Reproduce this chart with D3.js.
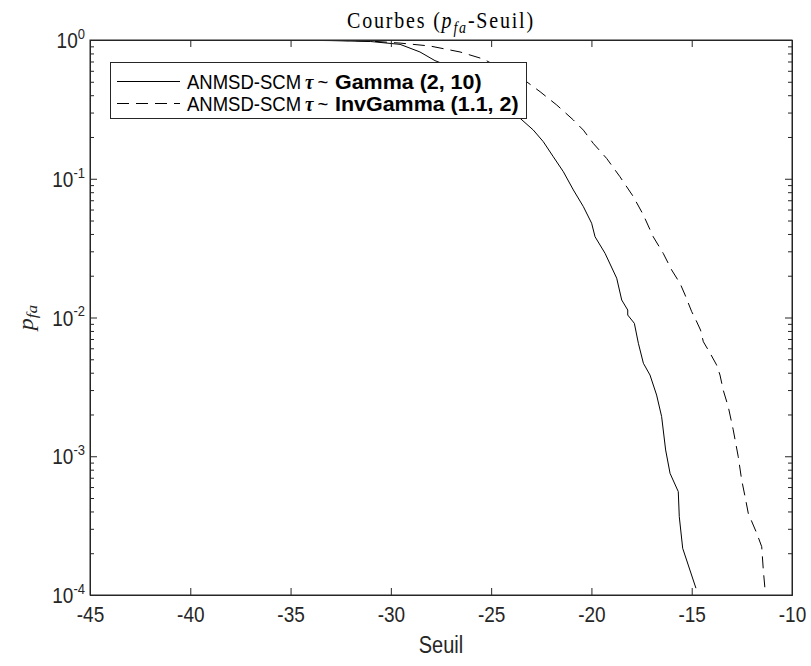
<!DOCTYPE html>
<html>
<head>
<meta charset="utf-8">
<script src="https://cdn.jsdelivr.net/npm/d3@7/dist/d3.min.js"></script>
<style>
  html, body { margin: 0; padding: 0; background: #fff; }
  svg { display: block; }
</style>
</head>
<body>
<svg id="chart" width="811" height="666"></svg>
<script>
// Seuil (threshold) values and false-alarm probabilities for each texture prior
const seuilGamma = [-45, -40, -37, -35, -33, -31, -29.54, -28.55, -27.8, -26.5, -25, -23.56, -22.9, -22.4, -21.9, -21.4, -20.9, -20.4, -19.99, -19.82, -19.32, -18.74, -18.49, -18.19, -18.19, -17.86, -17.66, -17.41, -17.08, -16.75, -16.5, -16.3, -16.08, -15.67, -15.62, -15.45, -14.79];
const pfaGamma = [1, 1, 0.9995, 0.997, 0.99, 0.975, 0.93, 0.82, 0.71, 0.6, 0.45, 0.273, 0.2246, 0.185, 0.144, 0.1124, 0.083, 0.0629, 0.0478, 0.0382, 0.029, 0.0192, 0.01337, 0.01132, 0.01042, 0.00908, 0.00652, 0.00468, 0.00385, 0.00276, 0.00193, 0.00111, 0.000753, 0.000556, 0.000367, 0.000217, 0.000112];

const seuilInvGamma = [-45, -40, -35, -33, -31.05, -29.54, -28.05, -26.55, -25.4, -23.23, -22.56, -21.73, -20.9, -20.4, -19.91, -19.24, -18.58, -17.91, -17.41, -16.92, -16.42, -16.0, -15.58, -15.33, -15.0, -14.83, -14.56, -14.42, -14.08, -13.76, -13.59, -13.43, -13.18, -12.93, -12.68, -12.51, -12.34, -12.18, -11.76, -11.51, -11.43, -11.35];
const pfaInvGamma = [1, 1, 0.999, 0.995, 0.983, 0.95, 0.905, 0.82, 0.73, 0.5, 0.424, 0.34, 0.265, 0.224, 0.18, 0.14, 0.1035, 0.0743, 0.0548, 0.0382, 0.029, 0.022, 0.0176, 0.01452, 0.01101, 0.00986, 0.00812, 0.00669, 0.00552, 0.00455, 0.00385, 0.003, 0.00228, 0.00155, 0.000993, 0.000675, 0.000511, 0.000388, 0.000279, 0.000223, 0.000151, 0.000112];

const xTicks = [-45, -40, -35, -30, -25, -20, -15, -10];
const yExponents = [0, -1, -2, -3, -4];

const seriesNames = ["Gamma (2, 10)", "InvGamma (1.1, 2)"];
const seriesPrefix = "ANMSD-SCM";

const axisColor = "#262626";
const sansFont = "'Liberation Sans', Arial, Helvetica, sans-serif";
const serifFont = "'Liberation Serif', 'Times New Roman', serif";
const SY = 1.15;        // glyphs are drawn slightly taller than wide
const SY_LEGEND = 1.08; // legend rows are tighter

const margin = { left: 90, right: 19, top: 40, bottom: 71 };
const W = 811, H = 666;
const x0 = margin.left, x1 = W - margin.right;
const y0 = H - margin.bottom, y1 = margin.top;

const svg = d3.select("#chart");

const x = d3.scaleLinear().domain([-45, -10]).range([x0, x1]);
const y = d3.scaleLog().domain([1e-4, 1]).range([y0, y1]);

// Text anchored at (tx, ty) with a vertical stretch (and optional horizontal one)
function label(parent, tx, ty, sx = 1, sy = SY) {
  return parent.append("g").attr("transform", `translate(${tx},${ty}) scale(${sx},${sy})`).append("text");
}

// Plot background
svg.append("rect").attr("x", x0).attr("y", y1).attr("width", x1 - x0).attr("height", y0 - y1).attr("fill", "#fff");

// Curves
svg.append("clipPath").attr("id", "plotClip")
  .append("rect").attr("x", x0).attr("y", y1).attr("width", x1 - x0).attr("height", y0 - y1);

const line = d3.line().x(d => x(d[0])).y(d => y(d[1]));
const gCurves = svg.append("g").attr("clip-path", "url(#plotClip)");
gCurves.append("path")
  .datum(d3.zip(seuilGamma, pfaGamma))
  .attr("d", line).attr("fill", "none").attr("stroke", "#000").attr("stroke-width", 1);
gCurves.append("path")
  .datum(d3.zip(seuilInvGamma, pfaInvGamma))
  .attr("d", line).attr("fill", "none").attr("stroke", "#000").attr("stroke-width", 1)
  .attr("stroke-dasharray", "12,7");

// Axes: ticks point inward, box on all four sides
const majorLen = 7, minorLen = 4;

const xAxisBottom = d3.axisBottom(x).tickValues(xTicks).tickSizeInner(-majorLen).tickSizeOuter(0).tickFormat(d => String(d));
const gxb = svg.append("g").attr("transform", `translate(0,${y0})`).call(xAxisBottom);
const xAxisTop = d3.axisTop(x).tickValues(xTicks).tickSizeInner(-majorLen).tickSizeOuter(0).tickFormat("");
const gxt = svg.append("g").attr("transform", `translate(0,${y1})`).call(xAxisTop);

const majors = yExponents.map(e => Math.pow(10, e));
const minors = [];
for (let e = -4; e < 0; e++) for (let m = 2; m <= 9; m++) minors.push(m * Math.pow(10, e));

const gyl = svg.append("g").attr("transform", `translate(${x0},0)`)
  .call(d3.axisLeft(y).tickValues(majors).tickSizeInner(-majorLen).tickSizeOuter(0).tickFormat(""));
const gyr = svg.append("g").attr("transform", `translate(${x1},0)`)
  .call(d3.axisRight(y).tickValues(majors).tickSizeInner(-majorLen).tickSizeOuter(0).tickFormat(""));
const gyml = svg.append("g").attr("transform", `translate(${x0},0)`)
  .call(d3.axisLeft(y).tickValues(minors).tickSizeInner(-minorLen).tickSizeOuter(0).tickFormat(""));
const gymr = svg.append("g").attr("transform", `translate(${x1},0)`)
  .call(d3.axisRight(y).tickValues(minors).tickSizeInner(-minorLen).tickSizeOuter(0).tickFormat(""));

[gxb, gxt, gyl, gyr, gyml, gymr].forEach(g => {
  g.selectAll("path.domain").attr("stroke", axisColor);
  g.selectAll(".tick line").attr("stroke", axisColor);
});
gxb.selectAll(".tick text")
  .attr("fill", axisColor).attr("font-family", sansFont).attr("font-size", 19)
  .attr("dy", null).attr("y", 0)
  .attr("transform", `translate(0,27) scale(1,${SY})`);

// Box outline
svg.append("rect").attr("x", x0).attr("y", y1).attr("width", x1 - x0).attr("height", y0 - y1)
  .attr("fill", "none").attr("stroke", axisColor).attr("stroke-width", 1);

// Y tick labels as 10^k
yExponents.forEach(e => {
  const t = label(svg, x0 - 5, y(Math.pow(10, e)) + 8)
    .attr("text-anchor", "end").attr("font-family", sansFont).attr("font-size", 19).attr("fill", axisColor);
  t.append("tspan").text("10");
  t.append("tspan").attr("font-size", 13).attr("dy", -8).text(String(e));
});

// Axis titles
label(svg, (x0 + x1) / 2, 653)
  .attr("text-anchor", "middle").attr("font-family", sansFont).attr("font-size", 20).attr("fill", axisColor)
  .text("Seuil");

const yTitle = svg.append("g").attr("transform", `translate(33,${(y0 + y1) / 2}) rotate(-90) scale(${SY},1)`)
  .append("text")
  .attr("text-anchor", "middle").attr("font-family", serifFont).attr("font-style", "italic").attr("font-size", 21).attr("fill", axisColor);
yTitle.append("tspan").text("p");
yTitle.append("tspan").attr("font-size", 15).attr("dy", 4).text("fa");

// Chart title
const title = label(svg, (x0 + x1) / 2, 28)
  .attr("text-anchor", "middle").attr("font-family", serifFont).attr("font-size", 20)
  .attr("letter-spacing", 1.8).attr("fill", "#000");
title.append("tspan").text("Courbes (");
title.append("tspan").attr("font-style", "italic").text("p");
title.append("tspan").attr("font-style", "italic").attr("font-size", 14).attr("dy", 4).text("fa");
title.append("tspan").attr("dy", -4).text("-Seuil)");

// Legend
const legend = svg.append("g");
legend.append("rect").attr("x", 110.5).attr("y", 62.5).attr("width", 416).attr("height", 56)
  .attr("fill", "#fff").attr("stroke", axisColor).attr("stroke-width", 1);
const rowsY = [81.5, 103.5];
const dashes = [null, "12,7"];
seriesNames.forEach((name, i) => {
  const by = rowsY[i] + 7;
  legend.append("line").attr("x1", 117).attr("x2", 180).attr("y1", rowsY[i]).attr("y2", rowsY[i])
    .attr("stroke", "#000").attr("stroke-width", 1).attr("stroke-dasharray", dashes[i]);
  label(legend, 187, by, 1, SY_LEGEND)
    .attr("font-family", sansFont).attr("font-size", 18.5).attr("fill", "#000").text(seriesPrefix);
  label(legend, 305, by, 1, SY_LEGEND)
    .attr("font-family", serifFont).attr("font-style", "italic").attr("font-weight", "bold")
    .attr("font-size", 19).attr("fill", "#000").text("τ");
  label(legend, 317.5, by, 1, SY_LEGEND)
    .attr("font-family", sansFont).attr("font-size", 18.5).attr("fill", "#000").text("~");
  label(legend, 335, by, 1.16, SY_LEGEND)
    .attr("font-family", sansFont).attr("font-weight", "bold").attr("font-size", 18.5).attr("fill", "#000").text(name);
});
</script>
</body>
</html>
